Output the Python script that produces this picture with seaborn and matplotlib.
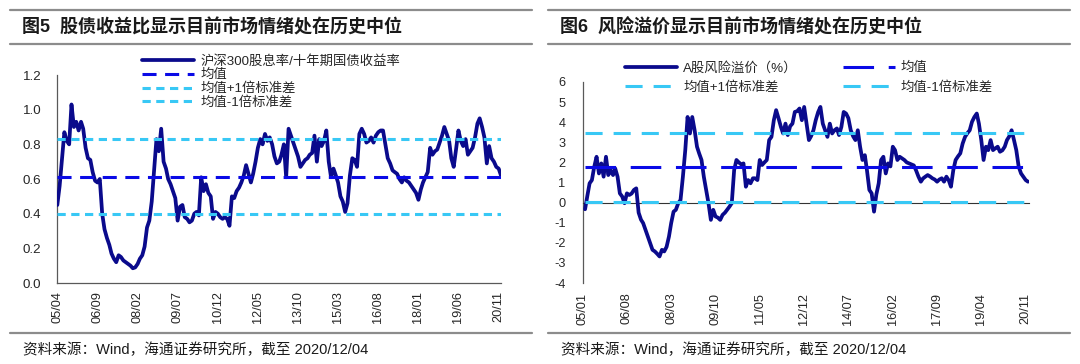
import matplotlib
matplotlib.use('Agg')
import matplotlib.pyplot as plt
import matplotlib.dates as mdates
from matplotlib.lines import Line2D
import numpy as np
import pandas as pd
import seaborn as sns

# ---- data ----
ratio_start = '2005-04-01'
ratio_values = [
    0.45, 0.56, 0.72, 0.87, 0.82, 0.80, 1.03, 0.90, 0.93, 0.88,
    0.93, 0.89, 0.78, 0.72, 0.71, 0.64, 0.59, 0.58, 0.60, 0.40,
    0.31, 0.26, 0.22, 0.17, 0.14, 0.12, 0.16, 0.15, 0.13, 0.12,
    0.11, 0.10, 0.085, 0.09, 0.11, 0.14, 0.16, 0.21, 0.32, 0.36,
    0.47, 0.65, 0.83, 0.76, 0.89, 0.70, 0.66, 0.60, 0.57, 0.53,
    0.49, 0.36, 0.44, 0.45, 0.38, 0.37, 0.35, 0.36, 0.40, 0.41,
    0.39, 0.61, 0.53, 0.57, 0.52, 0.50, 0.37, 0.41, 0.40, 0.38,
    0.37, 0.38, 0.37, 0.33, 0.50, 0.49, 0.53, 0.55, 0.58, 0.62,
    0.68, 0.63, 0.58, 0.63, 0.70, 0.78, 0.83, 0.80, 0.86, 0.82,
    0.84, 0.80, 0.73, 0.69, 0.70, 0.74, 0.80, 0.61, 0.89, 0.85,
    0.81, 0.77, 0.73, 0.67, 0.69, 0.71, 0.72, 0.74, 0.75, 0.85,
    0.70, 0.83, 0.79, 0.82, 0.88, 0.70, 0.61, 0.66, 0.62, 0.58,
    0.50, 0.47, 0.41, 0.46, 0.62, 0.72, 0.71, 0.67, 0.86, 0.89,
    0.86, 0.81, 0.82, 0.84, 0.81, 0.85, 0.87, 0.88, 0.88, 0.80,
    0.72, 0.69, 0.65, 0.64, 0.63, 0.60, 0.58, 0.61, 0.59, 0.58,
    0.56, 0.54, 0.52, 0.48, 0.54, 0.58, 0.61, 0.64, 0.78, 0.74,
    0.76, 0.77, 0.81, 0.85, 0.90, 0.86, 0.82, 0.72, 0.67, 0.77,
    0.88, 0.82, 0.79, 0.83, 0.74, 0.76, 0.78, 0.84, 0.92, 0.95,
    0.90, 0.84, 0.69, 0.79, 0.72, 0.70, 0.67, 0.66, 0.62,
]
ratio_mean = 0.613
ratio_upper = 0.831
ratio_lower = 0.400
ratio_ticks = ['05/04', '06/09', '08/02', '09/07', '10/12', '12/05',
               '13/10', '15/03', '16/08', '18/01', '19/06', '20/11']
ratio_yticks = [0.0, 0.2, 0.4, 0.6, 0.8, 1.0, 1.2]
ratio_labels = ['沪深300股息率/十年期国债收益率', '均值', '均值+1倍标准差', '均值-1倍标准差']

premium_start = '2005-02-01'
premium_values = [
    -0.33, 0.30, 0.96, 1.12, 1.79, 2.28, 1.45, 1.95, 1.29, 2.28,
    1.37, 1.62, 1.37, 1.70, 1.29, 0.46, 0.30, -0.03, 0.46, 0.38,
    0.45, 0.63, 0.71, -0.50, -0.85, -1.02, -1.36, -1.70, -2.02, -2.35,
    -2.43, -2.55, -2.68, -2.35, -2.43, -2.20, -1.69, -1.02, -0.45, -0.36,
    -0.03, 0.13, 1.29, 2.61, 4.26, 3.44, 4.26, 3.60, 2.78, 2.45,
    2.12, 1.29, 0.63, -0.03, -0.86, -0.36, -0.69, -0.75, -0.86, -0.61,
    -0.50, -0.36, -0.20, -0.03, 1.62, 2.12, 2.00, 1.90, 1.95, 0.79,
    1.12, 0.96, 1.21, 1.21, 1.12, 2.12, 1.87, 2.00, 2.12, 3.11,
    3.27, 4.10, 4.60, 4.20, 3.77, 3.44, 3.93, 3.36, 3.80, 3.93,
    4.51, 4.55, 4.68, 4.10, 4.76, 3.93, 3.11, 3.30, 3.60, 4.10,
    4.50, 4.76, 3.93, 3.60, 3.27, 3.93, 3.44, 3.60, 3.69, 3.36,
    3.77, 4.51, 4.43, 4.20, 3.60, 3.30, 3.11, 3.60, 2.78, 2.12,
    2.36, 1.60, 0.63, 0.46, -0.45, 0.40, 0.96, 2.12, 2.28, 1.45,
    1.95, 1.80, 2.78, 2.61, 2.12, 2.28, 2.20, 2.12, 2.00, 1.95,
    1.90, 1.85, 1.60, 1.29, 1.04, 1.20, 1.29, 1.37, 1.30, 1.21,
    1.15, 1.04, 1.15, 1.21, 1.04, 1.29, 1.10, 0.79, 1.62, 2.12,
    2.30, 2.45, 2.94, 3.27, 3.45, 3.60, 4.02, 4.26, 4.43, 3.93,
    3.11, 2.12, 2.78, 2.61, 3.11, 2.61, 2.70, 2.78, 2.53, 2.60,
    2.78, 3.11, 3.30, 3.60, 3.11, 2.61, 1.79, 1.45, 1.29, 1.12,
    1.04,
]
premium_mean = 1.76
premium_upper = 3.48
premium_lower = 0.04
premium_ticks = ['05/01', '06/08', '08/03', '09/10', '11/05', '12/12',
                 '14/07', '16/02', '17/09', '19/04', '20/11']
premium_yticks = list(range(-4, 7))
premium_labels = ['A股风险溢价（%）', '均值', '均值+1倍标准差', '均值-1倍标准差']

titles = ['图5  股债收益比显示目前市场情绪处在历史中位',
          '图6  风险溢价显示目前市场情绪处在历史中位']
source = '资料来源：Wind，海通证券研究所，截至 2020/12/04'

# ---- style ----
sns.set_theme(style='white')
plt.rcParams['font.family'] = ['Liberation Sans', 'Noto Sans CJK SC']
plt.rcParams['axes.unicode_minus'] = False

NAVY = '#0a0a8c'
BLUE = '#0a0ae6'
CYAN = '#38c8f5'
AXIS = '#595959'
TXT = '#262626'
LEG_FS = 9.6


def tick_dates(labels):
    return [pd.to_datetime('20' + t, format='%Y/%m') for t in labels]


def draw_series(ax, start, values, mean, upper, lower, mean_dash, std_dash):
    dates = pd.date_range(start, periods=len(values), freq='MS')
    df = pd.DataFrame({'date': dates, 'value': values})
    sns.lineplot(data=df, x='date', y='value', ax=ax, color=NAVY,
                 lw=2.7, zorder=3)
    n = len(values)
    h_mean, = ax.plot(dates, [mean] * n, color=BLUE, lw=2.2,
                      ls=(0, mean_dash), zorder=4)
    h_up, = ax.plot(dates, [upper] * n, color=CYAN, lw=2.2,
                    ls=(0, std_dash), zorder=4)
    h_lo, = ax.plot(dates, [lower] * n, color=CYAN, lw=2.2,
                    ls=(0, std_dash), zorder=4)
    h_main = ax.get_lines()[0]
    return dates, [h_main, h_mean, h_up, h_lo]


fig = plt.figure(figsize=(10.8, 3.64), dpi=100)

# ---------- left panel ----------
ax1 = fig.add_axes([57.3 / 1080, 81 / 364, 443.7 / 1080, 208 / 364])
dates1, handles1 = draw_series(ax1, ratio_start, ratio_values, ratio_mean,
                               ratio_upper, ratio_lower, (4.6, 2.8),
                               (2.7, 1.8))
ax1.set_xlim(pd.Timestamp('2005-04-01'), pd.Timestamp('2020-12-01'))
ax1.set_ylim(0, 1.2)
ax1.set_yticks(ratio_yticks)
ax1.set_yticklabels([f'{v:.1f}' for v in ratio_yticks])
ax1.set_xticks(tick_dates(ratio_ticks))
ax1.set_xticklabels(ratio_ticks, rotation=90)
ax1.tick_params(axis='both', which='major', direction='out', length=3,
                width=0.8, color=AXIS, labelcolor=TXT)
ax1.tick_params(axis='y', labelsize=9.6, pad=8.4)
ax1.tick_params(axis='x', labelsize=9.2, pad=3)
for s in ['top', 'right']:
    ax1.spines[s].set_visible(False)
for s in ['left', 'bottom']:
    ax1.spines[s].set_color(AXIS)
    ax1.spines[s].set_linewidth(0.9)
ax1.set_xlabel('')
ax1.set_ylabel('')

fig.legend(handles1, ratio_labels, loc='upper left',
           bbox_to_anchor=(142 / 1080, 1 - 55 / 364), frameon=False,
           fontsize=LEG_FS, handlelength=3.9, handletextpad=0.45,
           labelspacing=0.1, borderpad=0, borderaxespad=0,
           labelcolor=TXT)

# ---------- right panel ----------
ax2 = fig.add_axes([582.7 / 1080, 81 / 364, 446 / 1080, 201 / 364])
dates2, handles2 = draw_series(ax2, premium_start, premium_values,
                               premium_mean, premium_upper, premium_lower,
                               (10.0, 4.8), (5.6, 3.6))
ax2.set_xlim(pd.Timestamp('2005-01-01'), pd.Timestamp('2020-12-10'))
ax2.set_ylim(-4, 6)
ax2.set_yticks(premium_yticks)
ax2.set_yticklabels([str(v) for v in premium_yticks])
ax2.spines['bottom'].set_position(('data', 0))
tick_nums = mdates.date2num(tick_dates(premium_ticks))
ax2.set_xticks(tick_nums)
ax2.tick_params(axis='x', direction='out', length=3, width=0.8,
                color='#333333', labelbottom=False)
ax2.tick_params(axis='y', direction='out', length=3, width=0.8,
                color=AXIS, labelsize=9.2, labelcolor=TXT, pad=9.4)
for s in ['top', 'right']:
    ax2.spines[s].set_visible(False)
ax2.spines['left'].set_color(AXIS)
ax2.spines['left'].set_linewidth(0.9)
ax2.spines['bottom'].set_color('#333333')
ax2.spines['bottom'].set_linewidth(0.8)
ax2.set_xlabel('')
ax2.set_ylabel('')

sec = ax2.secondary_xaxis('bottom')
sec.set_xticks(tick_nums)
sec.set_xticklabels(premium_ticks, rotation=90)
sec.tick_params(length=0, labelsize=9.2, labelcolor=TXT, pad=7)
sec.spines['bottom'].set_visible(False)

order = [0, 2, 1, 3]
fig.legend([handles2[i] for i in order], [premium_labels[i] for i in order],
           loc='upper left', bbox_to_anchor=(625 / 1080, 1 - 61.5 / 364),
           ncol=2, frameon=False, fontsize=LEG_FS, handlelength=3.9,
           handletextpad=0.45, labelspacing=0.5, columnspacing=3.4,
           borderpad=0, borderaxespad=0, labelcolor=TXT)

# ---------- title bars and source notes ----------
for x0, x1, title in [(10, 532, titles[0]), (548, 1070, titles[1])]:
    for y in (10, 44, 333):
        fig.add_artist(Line2D([x0 / 1080, x1 / 1080], [1 - y / 364] * 2,
                              transform=fig.transFigure, color='#8c8c8c',
                              lw=1.6))
    fig.text((x0 + 12) / 1080, 1 - 27.5 / 364, title, fontsize=13,
             fontweight='bold', color='#1a1a1a', va='center', ha='left')
    fig.text((x0 + 13) / 1080, 1 - 350 / 364, source, fontsize=10.5,
             color='#1a1a1a', va='center', ha='left')

fig.savefig('out.png', dpi=100)
